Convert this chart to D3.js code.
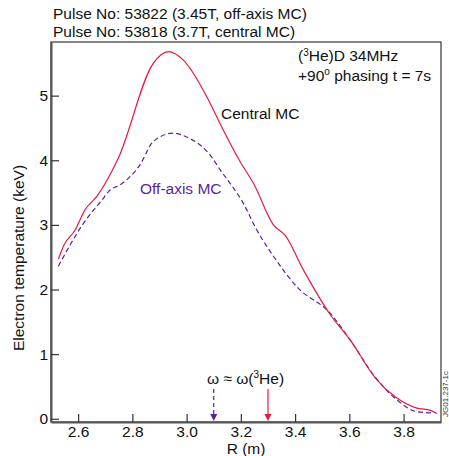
<!DOCTYPE html>
<html><head><meta charset="utf-8">
<script src="https://cdn.jsdelivr.net/npm/d3@7"></script>
<style>body{margin:0;background:#fff;} svg{display:block;font-family:Arial,"Liberation Sans",sans-serif;}</style>
</head><body>
<script>
const rCentral = [2.527, 2.548, 2.589, 2.625, 2.669, 2.748, 2.877, 2.933, 2.988, 3.075, 3.124, 3.197, 3.247, 3.32, 3.363, 3.431, 3.53, 3.603, 3.696, 3.769, 3.849, 3.899, 3.923];
const teCentral = [2.47, 2.69, 2.92, 3.23, 3.44, 4.03, 5.50, 5.68, 5.55, 4.98, 4.56, 3.98, 3.64, 3.00, 2.84, 2.30, 1.61, 1.22, 0.63, 0.34, 0.165, 0.13, 0.08];
const rOff = [2.527, 2.619, 2.687, 2.718, 2.755, 2.828, 2.877, 2.951, 3.0, 3.087, 3.124, 3.173, 3.203, 3.259, 3.326, 3.407, 3.53, 3.603, 3.689, 3.776, 3.849, 3.911];
const teOff = [2.36, 3.02, 3.38, 3.54, 3.62, 3.93, 4.29, 4.42, 4.36, 4.08, 3.85, 3.57, 3.38, 2.92, 2.48, 2.04, 1.63, 1.22, 0.68, 0.29, 0.11, 0.09];
const xTicks = [2.6, 2.8, 3.0, 3.2, 3.4, 3.6, 3.8];
const yTicks = [0, 1, 2, 3, 4, 5];
const resonance = [{r: 3.1, series: "off"}, {r: 3.3, series: "central"}];

const W = 449, H = 456;
const m = {l: 51, r: 8, t: 42, b: 34};
const FS = 15.5;
const red = "#e8193c", purple = "#5a1f9e";
const svg = d3.select("body").append("svg").attr("width", W).attr("height", H);
const x = d3.scaleLinear().domain([2.5, 3.938]).range([m.l, W - m.r]);
const y = d3.scaleLinear().domain([-0.05, 5.83]).range([H - m.b, m.t]);

// frame
svg.append("rect").attr("x", m.l).attr("y", m.t).attr("width", W - m.r - m.l).attr("height", H - m.b - m.t)
  .attr("fill", "none").attr("stroke", "#333").attr("stroke-width", 1.2);

const xAxis = svg.append("g").attr("transform", `translate(0,${H - m.b})`)
  .call(d3.axisBottom(x).tickValues(xTicks).tickFormat(d3.format(".1f")).tickSizeInner(-8).tickSizeOuter(0).tickPadding(4));
xAxis.select(".domain").attr("stroke", "#555").attr("stroke-width", 2);
xAxis.selectAll(".tick line").attr("stroke", "#333").attr("stroke-width", 1.2);
xAxis.selectAll("text").attr("font-size", FS).attr("fill", "#111").attr("font-family", "Arial, Liberation Sans, sans-serif");

const yAxis = svg.append("g").attr("transform", `translate(${m.l},0)`)
  .call(d3.axisLeft(y).tickValues(yTicks).tickFormat(d3.format("d")).tickSizeInner(-8).tickSizeOuter(0).tickPadding(3));
yAxis.select(".domain").attr("stroke", "#555").attr("stroke-width", 2);
yAxis.selectAll(".tick line").attr("stroke", "#333").attr("stroke-width", 1.2);
yAxis.selectAll("text").attr("font-size", FS).attr("fill", "#111").attr("font-family", "Arial, Liberation Sans, sans-serif");

const line = d3.line().x(d => x(d[0])).y(d => y(d[1])).curve(d3.curveMonotoneX);
svg.append("path").datum(d3.zip(rOff, teOff)).attr("d", line)
  .attr("fill", "none").attr("stroke", purple).attr("stroke-width", 1.2).attr("stroke-dasharray", "5,3");
svg.append("path").datum(d3.zip(rCentral, teCentral)).attr("d", line)
  .attr("fill", "none").attr("stroke", red).attr("stroke-width", 1.2);

// resonance arrows
resonance.forEach(a => {
  const c = a.series === "off" ? purple : red;
  const xp = x(a.r), y0 = 389, y1 = H - m.b - 1;
  svg.append("line").attr("x1", xp).attr("x2", xp).attr("y1", y0).attr("y2", y1 - 6)
    .attr("stroke", c).attr("stroke-width", 1.2).attr("stroke-dasharray", a.series === "off" ? "4,3" : null);
  svg.append("path").attr("d", `M${xp - 3.5},${y1 - 7}L${xp + 3.5},${y1 - 7}L${xp},${y1}Z`).attr("fill", c);
});

const t = (xx, yy, s, opts = {}) => svg.append("text").attr("x", xx).attr("y", yy).attr("font-size", opts.size || FS)
  .attr("fill", opts.fill || "#111").attr("text-anchor", opts.anchor || "start").text(s);

t(53, 19, "Pulse No: 53822 (3.45T, off-axis MC)");
t(53, 37, "Pulse No: 53818 (3.7T, central MC)");

const a1 = svg.append("text").attr("x", 298).attr("y", 61).attr("font-size", FS).attr("fill", "#111");
a1.append("tspan").text("(");
a1.append("tspan").attr("font-size", 10).attr("dy", -5).text("3");
a1.append("tspan").attr("dy", 5).text("He)D 34MHz");
const a2 = svg.append("text").attr("x", 298).attr("y", 81).attr("font-size", FS).attr("fill", "#111");
a2.append("tspan").text("+90");
a2.append("tspan").attr("font-size", 10).attr("dy", -6).text("o");
a2.append("tspan").attr("dy", 6).text(" phasing t = 7s");

t(221, 119, "Central MC");
t(140, 194, "Off-axis MC", {fill: purple});

const w = svg.append("text").attr("x", 207).attr("y", 384).attr("font-size", FS).attr("fill", "#111");
w.append("tspan").text("ω ≈ ω(");
w.append("tspan").attr("font-size", 10).attr("dy", -6).text("3");
w.append("tspan").attr("dy", 6).text("He)");

t(246, 454, "R (m)", {anchor: "middle"});
svg.append("text").attr("transform", "translate(24,258) rotate(-90)").attr("text-anchor", "middle")
  .attr("font-size", FS).attr("fill", "#111").text("Electron temperature (keV)");
svg.append("text").attr("transform", "translate(448,394) rotate(-90)").attr("text-anchor", "middle")
  .attr("font-size", 8).attr("fill", "#333").text("JG01.237-1c");
</script>
</body></html>
